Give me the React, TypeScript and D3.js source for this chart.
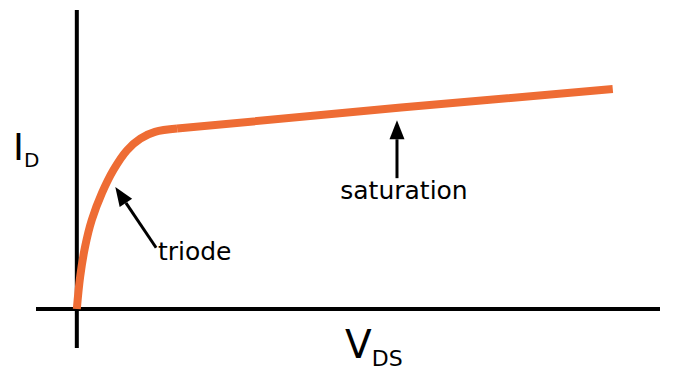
import * as d3 from "d3";

const WIDTH = 688;
const HEIGHT = 384;

// I_D vs V_DS curve (arbitrary units)
// triode region (curved)
const triodeV = [0, 0.057, 0.142, 0.257, 0.43, 0.63, 0.86, 1.09, 1.34, 1.72];
const triodeI = [0, 0.58, 1.12, 1.6, 2.08, 2.5, 2.85, 3.06, 3.18, 3.24];
// saturation region (straight)
const satV = [1.72, 5.56, 9.19];
const satI = [3.24, 3.62, 3.95];

// axis extents
const xDomain = [-0.7, 10];
const yDomain = [-0.7, 5.37];

// annotations
const noteLabels = ["triode", "saturation"];
const noteTail = [[1.36, 1.1], [5.49, 2.35]];
const noteTip = [[0.66, 2.19], [5.49, 3.39]];
const noteText = [[1.39, 0.88], [5.61, 1.97]];
const noteAnchor = ["start", "middle"];

const ORANGE = "#ee6c34";
const FONT = "'DejaVu Sans', Verdana, sans-serif";

function Arrow({ x1, y1, x2, y2 }) {
  const ang = Math.atan2(y2 - y1, x2 - x1);
  const len = 19;
  const half = 7.5;
  const bx = x2 - len * Math.cos(ang);
  const by = y2 - len * Math.sin(ang);
  const px = -Math.sin(ang) * half;
  const py = Math.cos(ang) * half;
  return (
    <g>
      <line x1={x1} y1={y1} x2={bx} y2={by} stroke="#000" strokeWidth={3} />
      <path
        d={`M${x2},${y2}L${bx + px},${by + py}L${bx - px},${by - py}Z`}
        fill="#000"
      />
    </g>
  );
}

export default function App() {
  const x = d3.scaleLinear().domain(xDomain).range([36, 660]);
  const y = d3.scaleLinear().domain(yDomain).range([348, 10]);

  const triode = triodeV.map((v, i) => [v, triodeI[i]] as [number, number]);
  const sat = satV.map((v, i) => [v, satI[i]] as [number, number]);

  const curved = d3
    .line<[number, number]>()
    .x((d) => x(d[0]))
    .y((d) => y(d[1]))
    .curve(d3.curveCatmullRom.alpha(0.5));
  const straight = d3
    .line<[number, number]>()
    .x((d) => x(d[0]))
    .y((d) => y(d[1]));

  return (
    <svg
      width={WIDTH}
      height={HEIGHT}
      style={{ position: "absolute", left: 0, top: 0, background: "#fff" }}
    >
      {/* axes */}
      <line x1={x(xDomain[0])} x2={x(xDomain[1])} y1={y(0)} y2={y(0)} stroke="#000" strokeWidth={4} />
      <line x1={x(0)} x2={x(0)} y1={y(yDomain[0])} y2={y(yDomain[1])} stroke="#000" strokeWidth={4} />

      <path d={curved(triode) || ""} fill="none" stroke={ORANGE} strokeWidth={8} />
      <path d={straight(sat) || ""} fill="none" stroke={ORANGE} strokeWidth={8} />

      {noteLabels.map((lab, i) => (
        <g key={lab}>
          <Arrow
            x1={x(noteTail[i][0])}
            y1={y(noteTail[i][1])}
            x2={x(noteTip[i][0])}
            y2={y(noteTip[i][1])}
          />
          <text
            x={x(noteText[i][0])}
            y={y(noteText[i][1])}
            textAnchor={noteAnchor[i]}
            fontFamily={FONT}
            fontSize={25}
          >
            {lab}
          </text>
        </g>
      ))}

      {/* axis titles */}
      <text x={13} y={160} fontFamily={FONT} fontSize={37}>
        I
        <tspan fontSize={20} dy={7}>D</tspan>
      </text>
      <text x={345} y={358} fontFamily={FONT} fontSize={39}>
        V
        <tspan fontSize={22} dy={8}>DS</tspan>
      </text>
    </svg>
  );
}
